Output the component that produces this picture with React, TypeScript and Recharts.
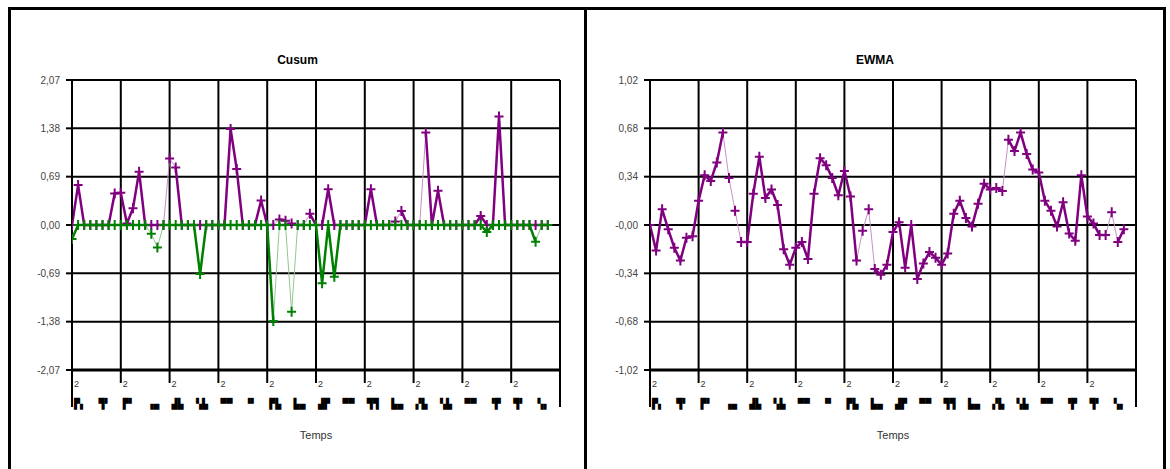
import React from 'react';
import { LineChart, Line, XAxis, YAxis, CartesianGrid, ReferenceLine } from 'recharts';

// Cusum, positive side (purple) and negative side (green), 79 periods
const cusumPos = [
  0, 0.57, 0, 0, 0, 0, 0, 0.45, 0.46, 0.02,
  0.24, 0.76, 0, 0, 0, 0, 0.95, 0.82, 0, 0,
  0, 0, 0, 0, 0, 0, 1.37, 0.8, 0, 0,
  0, 0.35, 0, 0, 0.08, 0.06, 0.02, 0, 0, 0.16,
  0, 0, 0.51, 0, 0, 0, 0, 0, 0, 0.51,
  0, 0, 0, 0.05, 0.2, 0, 0, 0, 1.32, 0,
  0.49, 0, 0, 0, 0, 0, 0, 0.13, 0, 0,
  1.55, 0, 0, 0, 0, 0, 0, 0, 0,
];
const cusumNeg = [
  -0.2, 0, 0, 0, 0, 0, 0, 0, 0, 0,
  0, 0, 0, -0.125, -0.32, 0, 0, 0, 0, 0,
  0, -0.7, 0, 0, 0, 0, 0, 0, 0, 0,
  0, 0, 0, -1.37, 0, 0, -1.24, 0, 0, 0,
  0, -0.83, 0, -0.74, 0, 0, 0, 0, 0, 0,
  0, 0, 0, 0, 0, 0, 0, 0, 0, 0,
  0, 0, 0, 0, 0, 0, 0, 0, -0.1, 0,
  0, 0, 0, 0, 0, 0, -0.24, 0, 0,
];
// EWMA
const ewma = [
  0, -0.18, 0.11, -0.03, -0.16, -0.25, -0.09, -0.08, 0.17, 0.35,
  0.31, 0.44, 0.65, 0.33, 0.1, -0.12, -0.12, 0.22, 0.48, 0.19,
  0.25, 0.14, -0.17, -0.28, -0.16, -0.12, -0.24, 0.22, 0.47, 0.42,
  0.33, 0.21, 0.38, 0.2, -0.25, -0.04, 0.11, -0.31, -0.35, -0.28,
  -0.05, 0.02, -0.3, 0, -0.38, -0.27, -0.19, -0.23, -0.28, -0.2,
  0.08, 0.17, 0.05, -0.01, 0.15, 0.29, 0.25, 0.26, 0.24, 0.6,
  0.52, 0.65, 0.5, 0.39, 0.37, 0.17, 0.1, -0.01, 0.16, -0.06,
  -0.11, 0.35, 0.06, 0.01, -0.07, -0.07, 0.09, -0.12, -0.03,
];

// segments (i -> i+1) that the original draws thin and pale
const cusumPosFaint = [15, 16, 33, 35, 36, 38, 52, 53, 57];
const cusumNegFaint = [12, 13, 14, 33, 35, 36, 76];
const ewmaFaint = [12, 13, 14, 34, 35, 36, 58, 75, 76];

const cusumTicks = [-2.07, -1.38, -0.69, 0, 0.69, 1.38, 2.07];
const cusumTickLabels = ['-2,07', '-1,38', '-0,69', '0,00', '0,69', '1,38', '2,07'];
const ewmaTicks = [-1.02, -0.68, -0.34, 0, 0.34, 0.68, 1.02];
const ewmaTickLabels = ['-1,02', '-0,68', '-0,34', '-0,00', '0,34', '0,68', '1,02'];

const xTicks = Array.from({ length: 21 }, (_, k) => k * 4);
const majorX = [8, 16, 24, 32, 40, 48, 56, 64, 72, 80];
const xMajorLabel = '2';
// clipped, unreadable date labels of the original
const garbled = [
  '▛▖', '▜▘', '▛▘', '▗▄', '▟▙', '▚▙', '▀▀', '▝▘', '▛▙', '▙▄',
  '▟▛', '▀▀', '▜▜', '▙▄', '▞▙', '▚▙', '▀▀', '▝▛', '▜▘', '▚▖',
];

const FONT = '"Liberation Sans", Arial, sans-serif';
const PURPLE = '#800080';
const GREEN = '#008000';

type Series = { values: number[]; faint: number[]; color: string; pale: string };

function thickRuns(n: number, faint: number[]) {
  const runs: [number, number][] = [];
  let start = -1;
  for (let i = 0; i < n - 1; i++) {
    if (!faint.includes(i)) {
      if (start < 0) start = i;
    } else if (start >= 0) {
      runs.push([start, i]);
      start = -1;
    }
  }
  if (start >= 0) runs.push([start, n - 1]);
  return runs;
}

const plusDot = (color: string) => (props: any) => {
  const { cx, cy, index } = props;
  if (cx == null || cy == null || isNaN(cy)) return <g key={index} />;
  return (
    <path
      key={index}
      d={`M${cx - 4.5},${cy}H${cx + 4.5}M${cx},${cy - 5}V${cy + 5}`}
      stroke={color}
      strokeWidth={2}
      fill="none"
    />
  );
};

const XTick = (props: any) => {
  const { x, y, payload } = props;
  const v = payload.value;
  return (
    <g>
      {v % 8 === 0 && (
        <line x1={x} x2={x} y1={y} y2={v === 0 || v === 80 ? y + 37 : y + 13} stroke="#000" strokeWidth={2} />
      )}
      {v % 8 === 0 && v < 80 && (
        <text x={x + 2} y={y + 17} fontSize={9} fill="#333" fontFamily={FONT}>
          {xMajorLabel}
        </text>
      )}
      {v < 80 && (
        <text x={x + 8} y={y + 37} fontSize={10} textAnchor="middle" fill="#000" fontFamily='"DejaVu Sans Mono", monospace'>
          {garbled[v / 4]}
        </text>
      )}
    </g>
  );
};

type PanelProps = {
  title: string;
  series: Series[];
  yTicks: number[];
  yLabels: string[];
  left: number;
  width: number;
  marginLeft: number;
  marginRight: number;
  panelLeft: number;
  panelWidth: number;
  plotLeft: number;
  plotWidth: number;
};

const Panel = (p: PanelProps) => {
  const n = p.series[0].values.length;
  const rows: any[] = [];
  const runsPer = p.series.map((s) => thickRuns(n, s.faint));
  for (let i = 0; i < n; i++) {
    const row: any = { i };
    p.series.forEach((s, k) => {
      row[`v${k}`] = s.values[i];
      runsPer[k].forEach(([a, b], r) => {
        row[`r${k}_${r}`] = i >= a && i <= b ? s.values[i] : null;
      });
    });
    rows.push(row);
  }

  return (
    <>
      <div
        style={{
          position: 'absolute',
          left: p.panelLeft,
          top: 7,
          width: p.panelWidth,
          height: 480,
          border: '3px solid #000',
          boxSizing: 'border-box',
        }}
      />
      <div
        style={{
          position: 'absolute',
          left: p.panelLeft,
          width: p.panelWidth,
          top: 52,
          textAlign: 'center',
          fontFamily: FONT,
          fontWeight: 'bold',
          fontSize: 12,
          lineHeight: '16px',
        }}
      >
        {p.title}
      </div>
      <div
        style={{
          position: 'absolute',
          left: p.plotLeft,
          width: p.plotWidth,
          top: 427,
          textAlign: 'center',
          fontFamily: FONT,
          fontSize: 11,
          color: '#333',
          lineHeight: '16px',
        }}
      >
        Temps
      </div>
      <div style={{ position: 'absolute', left: p.left, top: 0 }}>
        <LineChart
          width={p.width}
          height={469}
          data={rows}
          margin={{ top: 80, right: p.marginRight, bottom: 59, left: p.marginLeft }}
        >
          <CartesianGrid vertical={false} stroke="#000" strokeWidth={2} />
          {majorX.map((t) => (
            <ReferenceLine key={t} x={t} stroke="#000" strokeWidth={2} />
          ))}
          <XAxis
            type="number"
            dataKey="i"
            domain={[0, 80]}
            ticks={xTicks}
            interval={0}
            height={40}
            tickSize={0}
            tickMargin={0}
            tickLine={false}
            axisLine={{ stroke: '#000', strokeWidth: 3 }}
            tick={<XTick />}
            allowDataOverflow
          />
          <YAxis
            type="number"
            domain={[p.yTicks[0], p.yTicks[p.yTicks.length - 1]]}
            ticks={p.yTicks}
            interval={0}
            width={60}
            tickSize={6}
            tickMargin={6}
            axisLine={{ stroke: '#000', strokeWidth: 2 }}
            tickLine={{ stroke: '#000', strokeWidth: 2 }}
            tick={{ fill: '#444', fontSize: 10, fontFamily: FONT }}
            tickFormatter={(v: number) => p.yLabels[p.yTicks.indexOf(v)]}
            allowDataOverflow
          />
          {p.series.flatMap((s, k) => [
            <Line
              key={`pale${k}`}
              type="linear"
              dataKey={`v${k}`}
              stroke={s.pale}
              strokeWidth={1}
              dot={false}
              activeDot={false}
              isAnimationActive={false}
            />,
            ...runsPer[k].map((_, r) => (
              <Line
                key={`run${k}_${r}`}
                type="linear"
                dataKey={`r${k}_${r}`}
                stroke={s.color}
                strokeWidth={2.5}
                dot={false}
                activeDot={false}
                isAnimationActive={false}
              />
            )),
            <Line
              key={`mk${k}`}
              type="linear"
              dataKey={`v${k}`}
              stroke="none"
              dot={plusDot(s.color)}
              activeDot={false}
              isAnimationActive={false}
            />,
          ])}
        </LineChart>
      </div>
    </>
  );
};

export default function App() {
  return (
    <div style={{ position: 'absolute', left: 0, top: 0, width: 1170, height: 469, overflow: 'hidden', background: '#fff' }}>
      <Panel
        title="Cusum"
        series={[
          { values: cusumPos, faint: cusumPosFaint, color: PURPLE, pale: '#c890c8' },
          { values: cusumNeg, faint: cusumNegFaint, color: GREEN, pale: '#90c890' },
        ]}
        yTicks={cusumTicks}
        yLabels={cusumTickLabels}
        left={0}
        width={586}
        marginLeft={12}
        marginRight={26}
        panelLeft={8}
        panelWidth={579}
        plotLeft={72}
        plotWidth={488}
      />
      <Panel
        title="EWMA"
        series={[{ values: ewma, faint: ewmaFaint, color: PURPLE, pale: '#c890c8' }]}
        yTicks={ewmaTicks}
        yLabels={ewmaTickLabels}
        left={580}
        width={590}
        marginLeft={10}
        marginRight={34}
        panelLeft={584}
        panelWidth={582}
        plotLeft={650}
        plotWidth={486}
      />
    </div>
  );
}
